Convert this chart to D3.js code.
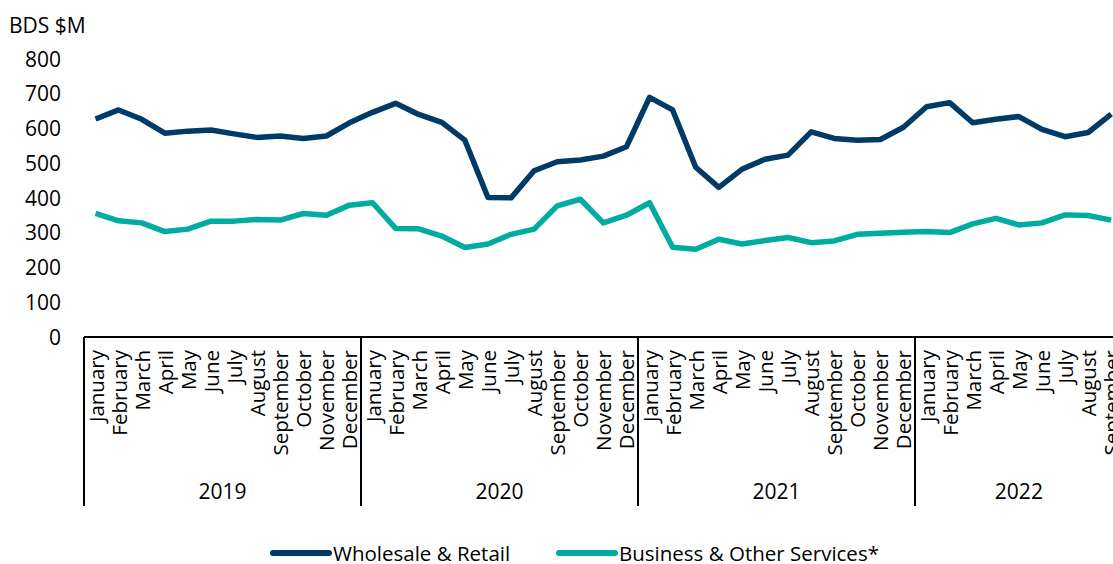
<!DOCTYPE html>
<html>
<head>
<meta charset="utf-8">
<script src="https://cdn.jsdelivr.net/npm/d3@7"></script>
<style>
  html, body { margin: 0; padding: 0; background: #fff; overflow: hidden; }
  svg { display: block; font-family: "Open Sans", sans-serif; }
</style>
</head>
<body>
<svg id="chart" width="1113" height="564"></svg>
<script>
// Monthly values, BDS $M, January 2019 – September 2022
const monthNames = ["January","February","March","April","May","June","July","August","September","October","November","December"];
const years = ["2019", "2020", "2021", "2022"];
const monthsPerYear = [12, 12, 12, 9];

const wholesaleRetail = [
  626, 652, 625, 585, 591, 594, 583, 573, 577, 570, 577, 615,
  645, 671, 639, 616, 565, 400, 399, 477, 503, 508, 519, 546,
  688, 652, 487, 429, 481, 510, 522, 589, 570, 565, 567, 602,
  661, 673, 615, 625, 633, 596, 575, 587, 640
];
const businessOther = [
  354, 333, 327, 302, 309, 332, 332, 337, 335, 354, 349, 378,
  385, 311, 310, 289, 256, 266, 294, 309, 376, 395, 327, 349,
  385, 257, 251, 280, 266, 276, 285, 270, 275, 294, 297, 300,
  302, 299, 324, 340, 321, 327, 350, 348, 335
];
const yTicks = [0, 100, 200, 300, 400, 500, 600, 700, 800];
const seriesNames = ["Wholesale & Retail", "Business & Other Services*"];
const seriesColors = ["#003a66", "#00aba0"];

// Build month keys grouped by year
const periods = [];
years.forEach((yr, yi) => {
  for (let m = 0; m < monthsPerYear[yi]; m++) {
    periods.push({ key: yr + "-" + m, year: yr, month: monthNames[m] });
  }
});

const svg = d3.select("#chart");
const left = 84, axisY = 337;
const step = (915 - 84) / 36;

const x = d3.scaleBand()
  .domain(periods.map(p => p.key))
  .range([left, left + periods.length * step])
  .padding(0);

const y = d3.scaleLinear().domain([0, 800]).range([336.5, 58.5]);

// Y tick labels
svg.append("g")
  .selectAll("text")
  .data(yTicks)
  .join("text")
  .attr("x", 61)
  .attr("y", d => y(d))
  .attr("text-anchor", "end")
  .attr("dominant-baseline", "central")
  .attr("font-size", 21)
  .attr("fill", "#000")
  .text(d => d);

// Unit label
svg.append("text")
  .attr("x", 9)
  .attr("y", 25)
  .attr("dominant-baseline", "central")
  .attr("font-size", 21)
  .attr("fill", "#000")
  .text("BDS $M");

// Series lines
const line = d3.line()
  .x((d, i) => x(periods[i].key) + x.bandwidth() / 2)
  .y(d => y(d));

[wholesaleRetail, businessOther].forEach((vals, si) => {
  svg.append("path")
    .datum(vals)
    .attr("fill", "none")
    .attr("stroke", seriesColors[si])
    .attr("stroke-width", 5.5)
    .attr("stroke-linejoin", "round")
    .attr("d", line);
});

// X axis baseline
svg.append("line")
  .attr("x1", left).attr("x2", 1113 + 20)
  .attr("y1", axisY).attr("y2", axisY)
  .attr("stroke", "#000").attr("stroke-width", 2);

// Month labels
svg.append("g")
  .selectAll("text")
  .data(periods)
  .join("text")
  .attr("transform", d => `translate(${x(d.key) + x.bandwidth() / 2},${axisY + 13}) rotate(-90)`)
  .attr("text-anchor", "end")
  .attr("dominant-baseline", "central")
  .attr("font-size", 20.5)
  .attr("fill", "#000")
  .text(d => d.month);

// Year group dividers and labels
let start = 0;
const yearSpans = years.map((yr, yi) => {
  const first = periods[start].key;
  const last = periods[start + monthsPerYear[yi] - 1].key;
  start += monthsPerYear[yi];
  return { year: yr, x0: x(first), x1: x(last) + x.bandwidth() };
});

const dividerX = [yearSpans[0].x0].concat(yearSpans.map(s => s.x1));
svg.append("g")
  .selectAll("line")
  .data(dividerX)
  .join("line")
  .attr("x1", d => d).attr("x2", d => d)
  .attr("y1", axisY).attr("y2", 506)
  .attr("stroke", "#000").attr("stroke-width", 2);

svg.append("g")
  .selectAll("text")
  .data(yearSpans)
  .join("text")
  .attr("x", d => (d.x0 + d.x1) / 2)
  .attr("y", 491)
  .attr("text-anchor", "middle")
  .attr("dominant-baseline", "central")
  .attr("font-size", 21)
  .attr("fill", "#000")
  .text(d => d.year);

// Legend
const legendItems = [
  { x: 273, name: seriesNames[0], color: seriesColors[0] },
  { x: 559, name: seriesNames[1], color: seriesColors[1] }
];
const lg = svg.append("g").selectAll("g").data(legendItems).join("g")
  .attr("transform", d => `translate(${d.x},553)`);
lg.append("line")
  .attr("x1", 0).attr("x2", 56).attr("y1", 0).attr("y2", 0)
  .attr("stroke", d => d.color).attr("stroke-width", 6)
  .attr("stroke-linecap", "round");
lg.append("text")
  .attr("x", 60).attr("y", 0)
  .attr("dominant-baseline", "central")
  .attr("font-size", 20.5)
  .attr("fill", "#000")
  .text(d => d.name);
</script>
</body>
</html>
